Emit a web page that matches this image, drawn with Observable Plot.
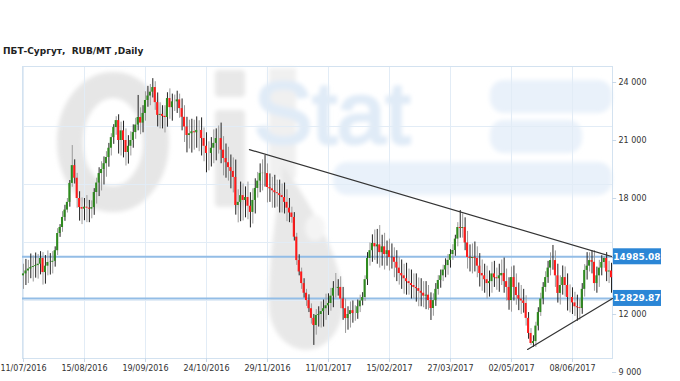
<!DOCTYPE html>
<html><head><meta charset="utf-8">
<script src="https://cdn.jsdelivr.net/npm/d3@7"></script>
<script src="https://cdn.jsdelivr.net/npm/@observablehq/plot@0.6"></script>
<style>
body{margin:0;background:#fff;}
#wrap{position:relative;width:680px;height:381px;overflow:hidden;}
#wrap svg{position:absolute;left:0;top:0;}
#title{position:absolute;left:3px;top:46px;font:bold 9px "DejaVu Sans",Verdana,sans-serif;line-height:10px;color:#222;white-space:pre;}
</style></head><body>
<div id="wrap"></div>
<script>
const titleText = "ПБТ-Сургут,  RUB/MT ,Daily";
const tickIndex = [0,25,50,75,100,125,150,175,200,225];
const tickLabels = ["11/07/2016","15/08/2016","19/09/2016","24/10/2016","29/11/2016","11/01/2017","15/02/2017","27/03/2017","02/05/2017","08/06/2017"];
const yTicks = [9000,12000,15000,18000,21000,24000];
const gridY = [12724,15724,18724,21724];
const levels = [14985.08, 12829.87];
const trendUpperI = [92.6, 241.4], trendUpperV = [20530, 14985.08];
const trendLowerI = [206.6, 241.4], trendLowerV = [10190, 12829.87];

const opens = [14000,14100,14250,14350,14430,14480,14530,14600,14900,14170,
14500,14690,14700,14750,15300,16190,16500,17020,17400,17800,
18780,19700,19050,18000,17530,17450,17550,17500,17450,17530,
18310,18800,19290,19500,19800,20120,20600,21150,21670,22030,
21000,21500,21000,20380,20700,21000,21410,21800,22190,21900,
22400,23070,23300,23500,23740,22960,22300,22350,22250,22190,
23170,22700,23000,23000,23100,22650,22200,21700,21260,21350,
21450,21400,21520,21520,21100,20700,20330,20330,20600,20850,
21100,21100,20500,20070,19850,19600,19400,19090,17640,17800,
18150,17900,18050,17600,17280,17900,18520,18900,19290,19300,
19290,18570,18500,18400,18300,18250,18150,18050,17800,17500,
17250,17020,16000,14790,14200,13600,13100,12720,12300,11800,
11430,11950,12000,12150,12300,12450,12570,12950,13350,13350,
13400,12800,12300,11790,12000,12200,12050,12050,12400,12700,
12880,13800,14900,15300,15670,15500,15600,15200,15500,15100,
15300,14950,14950,14700,14400,14120,14000,13850,13700,13600,
13500,13400,13340,13200,13100,12950,13000,12720,12310,12720,
13300,13760,14000,14300,14530,14800,15100,15310,15900,16500,
16450,16500,15700,14950,14900,14950,14900,14500,14120,14000,
13800,13600,13700,14100,13900,13850,14000,14120,13700,13400,
12720,13910,13400,12980,12800,12700,12570,11800,11020,10500,
10600,11400,12100,12800,13400,13910,14400,14790,14790,14000,
13090,13500,13910,13500,12880,12880,12600,12400,12350,12310,
13300,14280,14500,14790,14700,13600,14000,14400,14690,14900,
14200,14250];
const closes = [14100,14250,14350,14430,14480,14530,14600,14900,14170,14500,
14690,14700,14750,15300,16190,16500,17020,17400,17800,18780,
19700,19050,18000,17530,17450,17550,17500,17450,17530,18310,
18800,19290,19500,19800,20120,20600,21150,21670,22030,21000,
21500,21000,20380,20700,21000,21410,21800,22190,21900,22400,
23070,23300,23500,23740,22960,22300,22350,22250,22190,23170,
22700,23000,23000,23100,22650,22200,21700,21260,21350,21450,
21400,21520,21520,21100,20700,20330,20330,20600,20850,21100,
21100,20500,20070,19850,19600,19400,19090,17640,17800,18150,
17900,18050,17600,17280,17900,18520,18900,19290,19300,19290,
18570,18500,18400,18300,18250,18150,18050,17800,17500,17250,
17020,16000,14790,14200,13600,13100,12720,12300,11800,11430,
11950,12000,12150,12300,12450,12570,12950,13350,13350,13400,
12800,12300,11790,12000,12200,12050,12050,12400,12700,12880,
13800,14900,15300,15670,15500,15600,15200,15500,15100,15300,
14950,14950,14700,14400,14120,14000,13850,13700,13600,13500,
13400,13340,13200,13100,12950,13000,12720,12310,12720,13300,
13760,14000,14300,14530,14800,15100,15310,15900,16500,16450,
16500,15700,14950,14900,14950,14900,14500,14120,14000,13800,
13600,13700,14100,13900,13850,14000,14120,13700,13400,12720,
13910,13400,12980,12800,12700,12570,11800,11020,10500,10600,
11400,12100,12800,13400,13910,14400,14790,14790,14000,13090,
13500,13910,13500,12880,12880,12600,12400,12350,12310,13300,
14280,14500,14790,14700,13600,14000,14400,14690,14900,14200,
14250,13900];
const upWick = [500,600,450,700,550,650,500,350,300,550,
600,450,500,200,250,150,300,250,200,150,
1040,300,250,350,500,450,600,400,350,200,
250,300,400,350,300,250,200,150,200,300,
450,500,600,550,450,400,350,1140,500,400,
450,500,400,460,300,500,600,450,550,300,
500,400,350,450,300,500,600,500,700,650,
600,700,500,650,550,700,600,550,700,500,
650,800,700,750,800,650,700,900,650,700,
600,550,800,700,600,500,450,500,700,930,
500,700,600,800,650,700,600,750,650,500,
300,250,200,300,200,250,200,300,250,200,
300,400,500,450,600,500,400,350,770,400,
550,600,500,400,450,500,400,350,300,250,
200,300,400,450,700,800,1000,600,700,500,
600,700,500,600,550,700,600,800,650,700,
600,700,550,650,600,700,500,400,350,300,
250,300,250,350,300,250,300,200,250,880,
700,500,600,650,700,800,600,650,700,600,
700,550,600,650,500,600,700,800,650,500,
550,600,700,650,700,600,400,300,250,300,
200,250,300,250,300,350,400,780,500,600,
500,600,550,600,650,500,550,600,450,300,
300,700,400,500,600,450,400,350,85,300,
500,400];
const downWick = [700,600,650,500,750,600,700,550,650,600,
500,650,600,300,250,200,250,200,150,250,
200,300,500,700,800,600,750,700,500,400,
600,700,900,800,700,500,400,350,400,700,
800,900,700,600,500,400,350,300,600,500,
400,350,500,300,400,600,700,650,800,500,
600,700,500,600,500,700,800,900,700,1000,
900,800,1100,900,800,1000,900,700,800,900,
800,700,900,800,700,900,800,500,900,1000,
1060,900,700,800,600,700,500,600,900,700,
800,700,900,800,700,900,800,600,700,500,
300,200,250,200,300,250,300,200,300,1030,
500,600,700,800,600,500,400,600,500,400,
500,600,770,600,700,500,400,300,300,250,
200,300,400,600,700,900,800,700,800,600,
700,600,800,700,600,700,800,700,600,700,
600,700,800,700,600,700,500,620,400,300,
300,400,300,400,500,400,300,300,400,500,
500,400,600,700,800,700,600,700,800,700,
800,700,600,500,600,700,500,600,700,500,
600,700,500,600,700,500,400,300,100,200,
300,250,200,300,250,300,400,500,600,500,
600,500,600,700,800,600,500,700,600,300,
400,500,300,600,400,500,600,400,300,500,
600,800];

const bars = closes.map((c, i) => ({
  i, open: opens[i], close: c,
  high: Math.max(opens[i], c) + upWick[i],
  low: Math.min(opens[i], c) - downWick[i]
}));
const upperTrend = trendUpperI.map((i, k) => ({i, v: trendUpperV[k]}));
const lowerTrend = trendLowerI.map((i, k) => ({i, v: trendLowerV[k]}));
const fmtY = d => d3.format(",")(d).replace(/,/g, " ");
const X0 = -0.4, X1 = 241.4;
// y tick labels hidden behind the level boxes (as in the reference)
const yLabelTicks = yTicks.filter(t => !levels.some(l => Math.abs(l - t) < 400));

const chart = Plot.plot({
  width: 680, height: 381,
  marginLeft: 22, marginRight: 68, marginTop: 66, marginBottom: 23,
  style: {fontFamily: "DejaVu Sans, Verdana, sans-serif", fontSize: "8px", color: "#333", background: "transparent"},
  x: {domain: [X0, X1], axis: null},
  y: {domain: [9724, 24828], axis: null},
  marks: [
    Plot.ruleX(tickIndex, {x: d => d, stroke: "#e2ecf6"}),
    Plot.ruleY(gridY, {y: d => d, stroke: "#e2ecf6"}),
    Plot.frame({stroke: "#d3e2f0"}),
    Plot.ruleY(levels, {y: d => d, stroke: "#93bde6", strokeWidth: 2}),
    Plot.ruleX(bars.filter(d => d.i % 2 === 0), {x: "i", y1: "low", y2: "high", stroke: "#9a9a9a"}),
    Plot.ruleX(bars.filter(d => d.i % 2 === 1), {x: "i", y1: "low", y2: "high", stroke: "#222"}),
    Plot.rect(bars.filter(d => d.close >= d.open), {x1: d => d.i - 0.42, x2: d => d.i + 0.42, y1: "open", y2: "close", fill: "#2e8a1e"}),
    Plot.rect(bars.filter(d => d.close < d.open), {x1: d => d.i - 0.42, x2: d => d.i + 0.42, y1: "open", y2: "close", fill: "#ff1a1a"}),
    Plot.line(upperTrend, {x: "i", y: "v", stroke: "#333", strokeWidth: 1.2}),
    Plot.line(lowerTrend, {x: "i", y: "v", stroke: "#333", strokeWidth: 1.2}),
    Plot.axisX(tickIndex, {tickFormat: d => tickLabels[tickIndex.indexOf(d)], tickSize: 4, tickPadding: 3, stroke: "#c8d8e8", fill: "#333", fontSize: 8, label: null}),
    Plot.ruleY(yTicks, {y: d => d, x1: X1, x2: X1 + 1.7, stroke: "#c8d8e8"}),
    Plot.text(yLabelTicks, {y: d => d, text: d => fmtY(d), frameAnchor: "right", textAnchor: "start", dx: 6, fill: "#333", fontSize: 8})
  ]
});

const svg = d3.select(chart);
// watermark behind everything (soft, blurred)
const defs = svg.insert("defs", ":first-child");
defs.append("filter").attr("id", "wmblur").attr("x", "-20%").attr("y", "-20%").attr("width", "140%").attr("height", "140%")
  .append("feGaussianBlur").attr("stdDeviation", 2.2);
const wm = svg.insert("g", "defs + *").attr("pointer-events", "none").attr("filter", "url(#wmblur)");
wm.append("ellipse").attr("cx", 113).attr("cy", 142).attr("rx", 43).attr("ry", 57)
  .attr("fill", "none").attr("stroke", "#e6e6e6").attr("stroke-width", 26);
wm.append("rect").attr("x", 215).attr("y", 70).attr("width", 30).attr("height", 27).attr("rx", 4).attr("fill", "#e8e8e8");
wm.append("rect").attr("x", 215).attr("y", 110).attr("width", 30).attr("height", 97).attr("rx", 4).attr("fill", "#e8e8e8");
wm.append("rect").attr("x", 269).attr("y", 68).attr("width", 27).attr("height", 110).attr("fill", "#f0f0f0");
wm.append("path").attr("d", "M283 165 C276 215,269 255,269 305 A37 45 0 0 0 343 305 C343 262,318 215,283 165 Z").attr("fill", "#e8e8e8");
wm.append("ellipse").attr("cx", 315).attr("cy", 228).attr("rx", 10).attr("ry", 13).attr("fill", "#f4f4f4");
wm.append("rect").attr("x", 333).attr("y", 162).attr("width", 279).attr("height", 33).attr("rx", 14).attr("fill", "#e9f1fa");
wm.append("rect").attr("x", 490).attr("y", 80).attr("width", 122).attr("height", 33).attr("rx", 14).attr("fill", "#e9f1fa");
wm.append("rect").attr("x", 490).attr("y", 120).attr("width", 92).attr("height", 33).attr("rx", 14).attr("fill", "#e9f1fa");
wm.append("text").attr("x", 332).attr("y", 143).attr("font-family", "Liberation Sans, Arial, sans-serif")
  .attr("font-size", 88).attr("fill", "#e0ebf7").attr("stroke", "#e0ebf7").attr("stroke-width", 3).text("Stat");

// level labels
const ys = chart.scale("y"), xs = chart.scale("x");
const xr = xs.apply(X1);
levels.forEach(v => {
  const y = ys.apply(v);
  svg.append("rect").attr("x", xr + 1).attr("y", y - 8).attr("width", 48).attr("height", 16).attr("fill", "#2b86d6");
  svg.append("text").attr("x", xr + 25).attr("y", y).attr("dy", "0.36em").attr("text-anchor", "middle")
    .attr("fill", "#fff").attr("font-size", 9).attr("font-weight", "bold").attr("font-family", "DejaVu Sans, sans-serif").text(v.toFixed(2));
});

const wrap = document.getElementById("wrap");
wrap.appendChild(chart);
const t = document.createElement("div");
t.id = "title"; t.textContent = titleText;
wrap.appendChild(t);
</script>
</body></html>
